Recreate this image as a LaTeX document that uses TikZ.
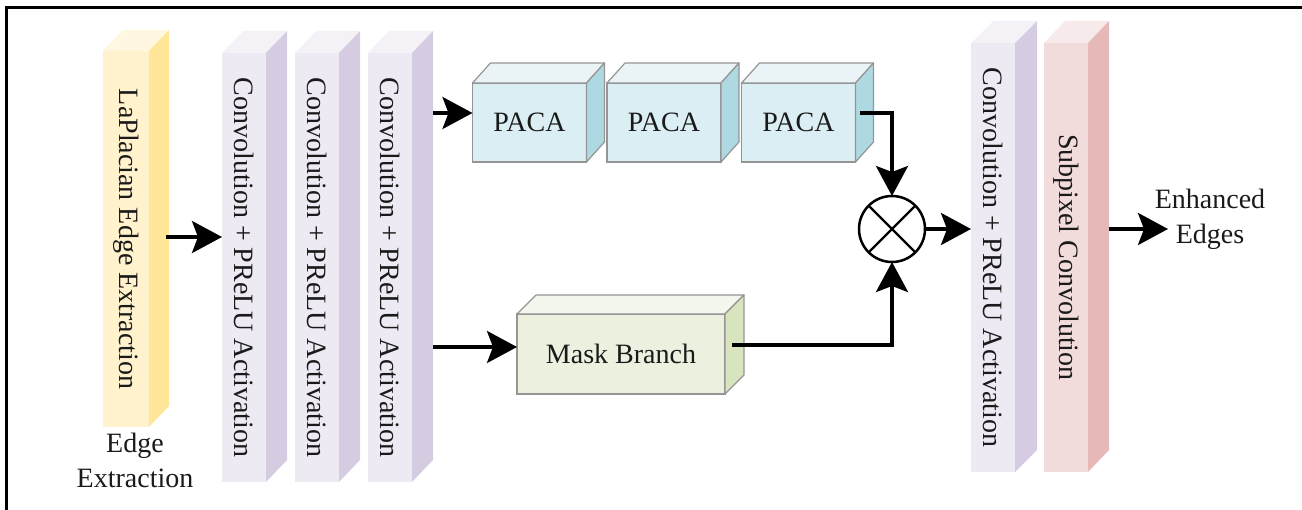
\documentclass[tikz,border=0pt]{standalone}
\usepackage{fontspec}
\setmainfont{Liberation Serif}[Ligatures=TeX]
\newfontfamily\diagfont{Liberation Serif}
\usepackage{graphicx}
\usetikzlibrary{arrows.meta}

% face colours: front / top / side
\definecolor{yelF}{HTML}{FFF2CC}\definecolor{yelT}{HTML}{FFF7E0}\definecolor{yelS}{HTML}{FFE699}
\definecolor{purF}{HTML}{EDEAF3}\definecolor{purT}{HTML}{F4F2F7}\definecolor{purS}{HTML}{D5CCE2}
\definecolor{pnkF}{HTML}{F2DCDB}\definecolor{pnkT}{HTML}{F7EAEA}\definecolor{pnkS}{HTML}{E6B9B8}
\definecolor{bluF}{HTML}{DAEEF3}\definecolor{bluT}{HTML}{EAF4F7}\definecolor{bluS}{HTML}{AED9E2}
\definecolor{grnF}{HTML}{EBF1DE}\definecolor{grnT}{HTML}{F3F6EC}\definecolor{grnS}{HTML}{D7E4BD}
\definecolor{edgeln}{HTML}{959595}
\definecolor{txt}{HTML}{1A1A1A}

% top and side faces of a cuboid whose front face is node #2
% #3 = depth to the right, #4 = depth upwards, #5 = top colour, #6 = side colour
\newcommand\boxfaces[6][]{%
  \path[fill=#5,#1] (#2.north west) -- ++(#3,-#4) -- ([shift={(#3,-#4)}]#2.north east) -- (#2.north east) -- cycle;
  \path[fill=#6,#1] (#2.north east) -- ([shift={(#3,-#4)}]#2.north east) -- ([shift={(#3,-#4)}]#2.south east) -- (#2.south east) -- cycle;}

\newcommand\vtext[1]{\rotatebox{-90}{#1}}

\begin{document}
\begin{tikzpicture}[x=1pt, y=-1pt,
  font=\diagfont\fontsize{28}{35}\selectfont,
  face/.style={inner sep=0pt, outer sep=0pt, text=txt},
  bar/.style={face, minimum width=44pt, minimum height=429pt},
  block/.style={face, draw=edgeln, line width=1.2pt, minimum width=114pt, minimum height=79pt},
  caption/.style={align=center, text=txt, inner sep=0pt},
  arr/.style={line width=3.5pt, -{Stealth[length=30pt, width=32pt, inset=6pt]}}]
\useasboundingbox (0,0) rectangle (1302,510);

% outer frame
\draw[line width=2.6pt] (6.5,520) -- (6.5,7.5) -- (1310,7.5);

% edge extraction
\node[face, fill=yelF, minimum width=46pt, minimum height=376pt] (lap) at (126,239) {\vtext{LaPlacian Edge Extraction}};
\boxfaces{lap}{20}{21}{yelT}{yelS}
\node[caption] (lapcap) at (135,460.5) {Edge\\Extraction};

% convolution + PReLU stack
\node[bar, fill=purF] (conv1) at (244,267.5) {\vtext{Convolution + PReLU Activation}};
\boxfaces{conv1}{21}{22}{purT}{purS}
\node[bar, fill=purF] (conv2) at (317,267.5) {\vtext{Convolution + PReLU Activation}};
\boxfaces{conv2}{21}{22}{purT}{purS}
\node[bar, fill=purF] (conv3) at (390,267.5) {\vtext{Convolution + PReLU Activation}};
\boxfaces{conv3}{21}{22}{purT}{purS}

% PACA chain
\node[block, fill=bluF] (paca1) at (529.5,122.5) {PACA};
\boxfaces[draw=edgeln, line width=1.2pt, line join=round]{paca1}{18}{20}{bluT}{bluS}
\node[block, fill=bluF] (paca2) at (664,122.5) {PACA};
\boxfaces[draw=edgeln, line width=1.2pt, line join=round]{paca2}{18}{20}{bluT}{bluS}
\node[block, fill=bluF] (paca3) at (798.5,122.5) {PACA};
\boxfaces[draw=edgeln, line width=1.2pt, line join=round]{paca3}{18}{20}{bluT}{bluS}

% mask branch
\node[block, fill=grnF, minimum width=208pt, minimum height=80pt] (mask) at (621,354) {Mask Branch};
\boxfaces[draw=edgeln, line width=1.2pt, line join=round]{mask}{19}{19}{grnT}{grnS}

% element-wise product
\node[circle, draw, fill=white, line width=2.5pt, minimum size=66pt, inner sep=0pt, outer sep=0pt] (mul) at (892,229) {};
\draw[line width=2.2pt] (mul.north west) -- (mul.south east) (mul.north east) -- (mul.south west);

% reconstruction
\node[bar, fill=purF] (conv4) at (993,257.5) {\vtext{Convolution + PReLU Activation}};
\boxfaces{conv4}{22}{22}{purT}{purS}
\node[bar, fill=pnkF] (sub) at (1066,257.5) {\vtext{Subpixel Convolution}};
\boxfaces{sub}{21}{22}{pnkT}{pnkS}
\node[caption] (out) at (1210,219) {Enhanced\\Edges};

% connectors
\coordinate (pin) at ([yshift=9.5pt]paca1.west);
\coordinate (min) at ([yshift=7pt]mask.west);
\coordinate (outtip) at (1168,229);
\draw[arr] ([xshift=17pt,yshift=2pt]lap.east) -- ([yshift=2pt]lap.east -| conv1.west);
\draw[arr] ([xshift=21pt]conv3.east |- pin) -- (pin);
\draw[arr] ([xshift=21pt]conv3.east |- min) -- (min);
\draw[arr] ([xshift=4pt,yshift=9.5pt]paca3.east) -| (mul.north);
\draw[arr] ([xshift=7pt,yshift=9pt]mask.east) -| (mul.south);
\draw[arr] (mul.east) -- (mul.east -| conv4.west);
\draw[arr] ([xshift=21pt]sub.east |- outtip) -- (outtip);
\end{tikzpicture}
\end{document}
